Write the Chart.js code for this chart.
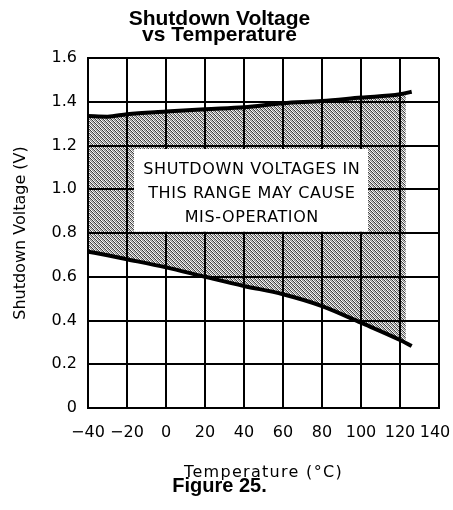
<!DOCTYPE html>
<html>
<head>
<meta charset="utf-8">
<script src="https://cdn.jsdelivr.net/npm/chart.js@4.4.1/dist/chart.umd.min.js"></script>
<style>
  html, body { margin: 0; padding: 0; background: #fff; }
  canvas { display: block; }
</style>
</head>
<body>
<canvas id="chart" width="453" height="510"></canvas>
<script>
// curve readings (°C -> V)
const temps = [-40, -30, -20, 0, 20, 40, 60, 80, 100, 120, 126];
const upperVolts = [1.335, 1.332, 1.343, 1.355, 1.366, 1.375, 1.393, 1.403, 1.419, 1.434, 1.446];
const lowerVolts = [0.715, 0.698, 0.68, 0.643, 0.60, 0.558, 0.52, 0.466, 0.39, 0.311, 0.283];

// hatched band stops a bit short of the curve ends
const shadeTemps = [-40, -30, -20, 0, 20, 40, 60, 80, 100, 120, 123];
const shadeTop = [1.335, 1.332, 1.343, 1.355, 1.366, 1.375, 1.393, 1.403, 1.419, 1.434, 1.441];
const shadeBottom = [0.715, 0.698, 0.68, 0.643, 0.60, 0.558, 0.52, 0.466, 0.39, 0.311, 0.296];

const xTickValues = [-40, -20, 0, 20, 40, 60, 80, 100, 120, 140];
const xTickLabels = ["\u221240", "\u221220", "0", "20", "40", "60", "80", "100", "120", "140"];
const yTickValues = [0, 0.2, 0.4, 0.6, 0.8, 1.0, 1.2, 1.4, 1.6];
const yTickLabels = ["0", "0.2", "0.4", "0.6", "0.8", "1.0", "1.2", "1.4", "1.6"];

const xTitle = "Temperature (°C)";
const noteLines = ["SHUTDOWN VOLTAGES IN", "THIS RANGE MAY CAUSE", "MIS-OPERATION"];

// note box in data units
const noteBox = { left: -16.4, right: 103.6, top: 1.184, bottom: 0.806 };
const noteCenterTemp = 44;
const noteBaselines = [1.068, 0.959, 0.852];

const mono = '"DejaVu Sans", sans-serif';
const arial = '"Liberation Sans", Arial, sans-serif';

function pts(xs, ys) {
    return xs.map((x, i) => ({ x, y: ys[i] }));
}

function makeHatch() {
    const c = document.createElement("canvas");
    c.width = 4;
    c.height = 4;
    const g = c.getContext("2d");
    const dark = [60, 140];
    const light = [255, 200];
    for (let y = 0; y < 4; y++) {
        for (let x = 0; x < 4; x++) {
            const alt = ((x - y + 4) % 4) >> 1;
            const v = (x + y) % 2 === 0 ? dark[alt] : light[alt];
            g.fillStyle = `rgb(${v},${v},${v})`;
            g.fillRect(x, y, 1, 1);
        }
    }
    return g.createPattern(c, "repeat");
}

const notePlugin = {
    id: "notes",
    afterDraw(chart) {
        const { ctx, chartArea, scales: { x, y } } = chart;
        const l = x.getPixelForValue(noteBox.left);
        const r = x.getPixelForValue(noteBox.right);
        const t = y.getPixelForValue(noteBox.top);
        const b = y.getPixelForValue(noteBox.bottom);
        ctx.save();
        ctx.fillStyle = "#fff";
        ctx.fillRect(l, t, r - l, b - t);
        ctx.fillStyle = "#000";
        ctx.font = "16px " + mono;
        ctx.letterSpacing = "0.6px";
        ctx.textAlign = "center";
        ctx.textBaseline = "alphabetic";
        const cx = x.getPixelForValue(noteCenterTemp);
        noteLines.forEach((txt, i) => {
            ctx.fillText(txt, cx, y.getPixelForValue(noteBaselines[i]));
        });

        // x axis title, drawn here so it can get the wide letter spacing
        ctx.letterSpacing = "1.3px";
        ctx.fillText(xTitle, (chartArea.left + chartArea.right) / 2, x.bottom - 1);
        ctx.restore();
    },
};

const curve = {
    borderColor: "#000",
    borderWidth: 4,
    pointRadius: 0,
    fill: false,
    cubicInterpolationMode: "monotone",
};

const shade = {
    borderWidth: 0,
    pointRadius: 0,
    cubicInterpolationMode: "monotone",
};

const gridOpts = { color: "#000", lineWidth: 2, drawTicks: false, z: 1 };
const borderOpts = { color: "#000", width: 2, z: 1 };

new Chart(document.getElementById("chart"), {
    type: "line",
    data: {
        datasets: [
            { ...curve, data: pts(temps, upperVolts) },
            { ...curve, data: pts(temps, lowerVolts) },
            { ...shade, data: pts(shadeTemps, shadeTop), fill: "+1", backgroundColor: makeHatch() },
            { ...shade, data: pts(shadeTemps, shadeBottom), fill: false },
        ],
    },
    options: {
        responsive: false,
        animation: false,
        layout: { padding: { left: 0, right: 14, top: 0, bottom: 0 } },
        plugins: {
            legend: { display: false },
            tooltip: { enabled: false },
            title: {
                display: true,
                text: ["Shutdown Voltage", "vs Temperature"],
                color: "#000",
                font: { family: arial, size: 21, weight: "bold", lineHeight: 0.762 },
                padding: { top: 11, bottom: 15 },
            },
            subtitle: {
                display: true,
                position: "bottom",
                text: "Figure 25.",
                color: "#000",
                font: { family: arial, size: 20, weight: "bold", lineHeight: 0.8 },
                padding: { top: 0, bottom: 16 },
            },
        },
        scales: {
            x: {
                type: "linear",
                min: -40,
                max: 140,
                afterBuildTicks: (s) => { s.ticks = xTickValues.map((value) => ({ value })); },
                afterFit: (s) => {
                    s.height = 70;
                    s.paddingLeft = 0;
                    s.paddingRight = 0;
                },
                grid: gridOpts,
                border: borderOpts,
                ticks: {
                    color: "#000",
                    font: { family: mono, size: 16 },
                    padding: 15,
                    maxRotation: 0,
                    autoSkip: false,
                    // last label sits a little inside the right edge in the original
                    callback: (v, i) => (i === xTickLabels.length - 1 ? xTickLabels[i] + "\u2002" : xTickLabels[i]),
                },
                title: { display: false },
            },
            y: {
                min: 0,
                max: 1.6,
                afterBuildTicks: (s) => { s.ticks = yTickValues.map((value) => ({ value })); },
                afterFit: (s) => { s.width = 88; },
                grid: gridOpts,
                border: borderOpts,
                ticks: {
                    color: "#000",
                    font: { family: mono, size: 16 },
                    padding: 11,
                    autoSkip: false,
                    callback: (v, i) => yTickLabels[i],
                },
                title: {
                    display: true,
                    text: "Shutdown Voltage (V)",
                    color: "#000",
                    font: { family: mono, size: 16 },
                    padding: { top: 11, bottom: 0 },
                },
            },
        },
    },
    plugins: [notePlugin],
});
</script>
</body>
</html>
